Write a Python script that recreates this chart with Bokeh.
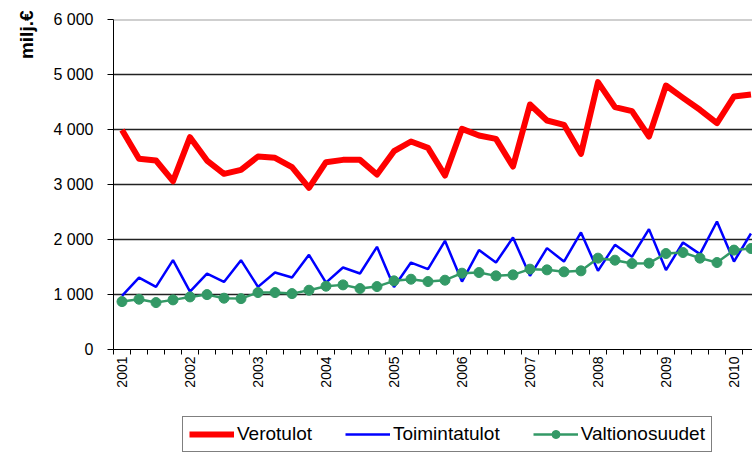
import math
from bokeh.plotting import figure
from bokeh.layouts import column
from bokeh.models import (Range1d, FixedTicker, LinearAxis, Legend, LegendItem,
                          Title, Span, Grid)
from bokeh.embed import file_html
from bokeh.resources import INLINE

years = [str(y) for y in range(2001, 2011)]
quarters = [f"{y}Q{q}" for y in years for q in range(1, 5)][:38]

verotulot = [3990, 3467, 3436, 3060, 3860, 3436, 3194, 3267, 3509, 3485, 3315, 2940,
             3406, 3448, 3448, 3182, 3606, 3782, 3667, 3164, 4012, 3891, 3830, 3327,
             4455, 4164, 4085, 3558, 4861, 4406, 4333, 3873, 4800, 4576, 4358, 4115,
             4600, 4636]
toimintatulot = [975, 1308, 1138, 1624, 1053, 1381, 1229, 1624, 1138, 1399, 1308, 1721,
                 1217, 1490, 1381, 1867, 1138, 1581, 1461, 1976, 1235, 1807, 1581, 2036,
                 1339, 1843, 1599, 2128, 1430, 1903, 1685, 2189, 1443, 1945, 1734, 2328,
                 1599, 2109]
valtionosuudet = [871, 914, 853, 902, 956, 998, 933, 925, 1035, 1035, 1016, 1078,
                  1151, 1175, 1108, 1144, 1248, 1278, 1235, 1260, 1388, 1399, 1339, 1357,
                  1461, 1448, 1412, 1430, 1661, 1624, 1563, 1570, 1745, 1763, 1661, 1581,
                  1807, 1836]
y_ticks = [0, 1000, 2000, 3000, 4000, 5000, 6000]
series_names = ["Verotulot", "Toimintatulot", "Valtionosuudet"]
series_colors = ["#ff0000", "#0000ff", "#339966"]
y_title = "milj.€"

FONT = "Liberation Sans"
x = list(range(len(quarters)))

p = figure(width=752, height=392, output_backend="svg", toolbar_location=None,
           x_range=Range1d(-0.5, 37.09), y_range=Range1d(0, 6000),
           x_axis_location=None, y_axis_location=None,
           min_border_left=113, min_border_right=0, min_border_top=19, min_border_bottom=43)
p.outline_line_color = None
p.center = [r for r in p.center if not isinstance(r, Grid)]

p.add_layout(Grid(dimension=1, ticker=FixedTicker(ticks=y_ticks[1:-1]),
                  grid_line_color="#222222", grid_line_width=1.5))
p.add_layout(Span(location=y_ticks[-1], dimension="width", line_color="#a0a0a0", line_width=2))

# y axis
ya = LinearAxis(ticker=FixedTicker(ticks=y_ticks),
                major_label_overrides={v: f"{v:,}".replace(",", " ") for v in y_ticks},
                major_tick_out=6, major_tick_in=0, minor_tick_line_color=None,
                axis_line_color="black", major_tick_line_color="black",
                major_label_standoff=14, major_label_text_font_size="16px",
                major_label_text_font=FONT, major_label_text_color="black")
p.add_layout(ya, "left")

# x axis: year labels at first quarters, small ticks at quarter boundaries
year_pos = [i for i, q in enumerate(quarters) if q.endswith("Q1")]
xa = LinearAxis(ticker=FixedTicker(ticks=year_pos,
                                   minor_ticks=[i - 0.5 for i in range(len(quarters) + 1)]),
                major_label_overrides={i: quarters[i][:4] for i in year_pos},
                major_label_orientation=math.pi / 2, axis_line_color="black",
                major_tick_line_color=None, major_tick_out=5, major_tick_in=0,
                minor_tick_line_color="black", minor_tick_out=5, minor_tick_in=0,
                major_label_standoff=2, major_label_text_font_size="14px",
                major_label_text_font=FONT, major_label_text_color="black")
p.add_layout(xa, "below")

r1 = p.line(x, verotulot, line_color=series_colors[0], line_width=6, line_join="round")
r2 = p.line(x, toimintatulot, line_color=series_colors[1], line_width=2.5)
r3 = p.line(x, valtionosuudet, line_color=series_colors[2], line_width=2.5)
r4 = p.scatter(x, valtionosuudet, size=10, fill_color=series_colors[2],
               line_color=series_colors[2])

p.add_layout(Title(text=y_title, align="right", text_font=FONT, text_font_style="bold",
                   text_font_size="19px", text_color="black", standoff=27, offset=-9), "left")

# legend strip below the chart (hidden copies of the series supply the legend glyphs)
p2 = figure(width=752, height=66, output_backend="svg", toolbar_location=None,
            x_axis_location=None, y_axis_location=None,
            min_border_left=0, min_border_right=0, min_border_top=0, min_border_bottom=0)
p2.outline_line_color = None
p2.center = [r for r in p2.center if not isinstance(r, Grid)]
l1 = p2.line(x, verotulot, line_color=series_colors[0], line_width=6, visible=False)
l2 = p2.line(x, toimintatulot, line_color=series_colors[1], line_width=2.5, visible=False)
l3 = p2.line(x, valtionosuudet, line_color=series_colors[2], line_width=2.5, visible=False)
l4 = p2.scatter(x, valtionosuudet, size=9, fill_color=series_colors[2],
                line_color=series_colors[2], visible=False)

legend = Legend(items=[LegendItem(label=series_names[0], renderers=[l1]),
                       LegendItem(label=series_names[1], renderers=[l2]),
                       LegendItem(label=series_names[2], renderers=[l3, l4])],
                orientation="horizontal", location=(69, 6), margin=0,
                padding=6, spacing=33, glyph_width=45, glyph_height=20, label_standoff=3,
                label_text_font=FONT, label_text_font_size="19px", label_text_color="black",
                border_line_color="black", border_line_width=1, background_fill_alpha=1)
p2.add_layout(legend)

layout = column(p, p2, spacing=0)
open("out.html", "w").write(file_html(layout, INLINE))
